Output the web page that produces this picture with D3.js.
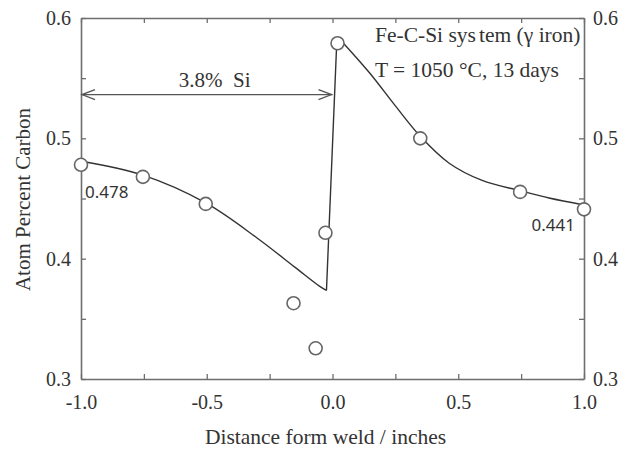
<!DOCTYPE html>
<html>
<head>
<meta charset="utf-8">
<script src="https://cdn.jsdelivr.net/npm/d3@7"></script>
<style>
  html, body { margin: 0; padding: 0; background: #fff; }
  svg { display: block; }
</style>
</head>
<body>
<svg id="chart" width="626" height="454"></svg>
<script>
// ---- data ----
const pointX = [-1.0, -0.754, -0.504, -0.155, -0.067, -0.028, 0.02, 0.349, 0.746, 1.0];
const pointY = [0.478, 0.468, 0.4455, 0.363, 0.3255, 0.4215, 0.579, 0.500, 0.4555, 0.441];

const fitLeftX = [-1.0, -0.754, -0.504, -0.3, -0.15, -0.052, -0.024];
const fitLeftY = [0.481, 0.4694, 0.4463, 0.4172, 0.393, 0.3772, 0.3736];

const jumpX = [-0.024, 0.016, 0.028];
const jumpY = [0.3736, 0.5752, 0.5826];

const fitRightX = [0.028, 0.147, 0.25, 0.349, 0.464, 0.595, 0.746, 0.861, 1.0];
const fitRightY = [0.5826, 0.5545, 0.527, 0.5017, 0.4793, 0.4650, 0.4565, 0.4504, 0.4446];

const xTicks = [-1.0, -0.75, -0.5, -0.25, 0.0, 0.25, 0.5, 0.75, 1.0];
const xTickLabels = ["-1.0", "", "-0.5", "", "0.0", "", "0.5", "", "1.0"];
const yTicks = [0.3, 0.35, 0.4, 0.45, 0.5, 0.55, 0.6];
const yTickLabels = ["0.3", "", "0.4", "", "0.5", "", "0.6"];

const siArrow = { from: -1.0, to: 0.0, y: 0.5364, label: "3.8%\u00a0\u00a0Si" };
const valueLabels = [
  { x: -1.0, y: 0.478, text: "0.478" },
  { x: 1.0, y: 0.441, text: "0.441" }
];
const xTitle = "Distance form weld / inches";
const yTitle = "Atom Percent Carbon";

// ---- layout ----
const svg = d3.select("#chart");
const L = 81, R = 584, T = 18, B = 379;
const x = d3.scaleLinear().domain([-1, 1]).range([L, R]);
const y = d3.scaleLinear().domain([0.3, 0.6]).range([B, T]);

const axisColor = "#6e6e6e";
const serifFam = "Liberation Serif, Times New Roman, DejaVu Serif, serif";
const sansFam = "Noto Sans, Open Sans, sans-serif";

function styleAxis(g) {
  g.attr("font-family", null).attr("font-size", null);
  g.select(".domain").attr("stroke", axisColor).attr("stroke-width", 1.6);
  g.selectAll(".tick line").attr("stroke", axisColor).attr("stroke-width", 1.3);
  g.selectAll(".tick text").attr("fill", "#333").style("font-family", serifFam).style("font-size", "20px");
}

const fmtX = (d) => xTickLabels[xTicks.findIndex(t => Math.abs(t - d) < 1e-9)];
const fmtY = (d) => yTickLabels[yTicks.findIndex(t => Math.abs(t - d) < 1e-9)];

const gB = svg.append("g").attr("transform", `translate(0,${B})`)
  .call(d3.axisBottom(x).tickValues(xTicks).tickSizeInner(-5).tickSizeOuter(0).tickPadding(16).tickFormat(fmtX));
styleAxis(gB);
const gT = svg.append("g").attr("transform", `translate(0,${T})`)
  .call(d3.axisTop(x).tickValues(xTicks).tickSizeInner(-5).tickSizeOuter(0).tickFormat(() => ""));
styleAxis(gT);
const gL = svg.append("g").attr("transform", `translate(${L},0)`)
  .call(d3.axisLeft(y).tickValues(yTicks).tickSizeInner(-5).tickSizeOuter(0).tickPadding(10).tickFormat(fmtY));
styleAxis(gL);
const gR = svg.append("g").attr("transform", `translate(${R},0)`)
  .call(d3.axisRight(y).tickValues(yTicks).tickSizeInner(-5).tickSizeOuter(0).tickPadding(9).tickFormat(fmtY));
styleAxis(gR);

// ---- curve ----
const lineC = d3.line().x(d => x(d[0])).y(d => y(d[1])).curve(d3.curveCatmullRom.alpha(0.5));
const lineL = d3.line().x(d => x(d[0])).y(d => y(d[1]));
const curveStyle = (p) => p.attr("fill", "none").attr("stroke", "#333").attr("stroke-width", 1.4).attr("stroke-linejoin", "round");

svg.append("path").datum(d3.zip(fitLeftX, fitLeftY)).attr("d", lineC).call(curveStyle);
svg.append("path").datum(d3.zip(jumpX, jumpY)).attr("d", lineL).call(curveStyle);
svg.append("path").datum(d3.zip(fitRightX, fitRightY)).attr("d", lineC).call(curveStyle);

// ---- arrow ----
const ay = y(siArrow.y), ax1 = x(siArrow.from), ax2 = x(siArrow.to);
const arrowG = svg.append("g").attr("stroke", "#555").attr("stroke-width", 1.3).attr("fill", "none");
arrowG.append("line").attr("x1", ax1).attr("x2", ax2).attr("y1", ay).attr("y2", ay);
arrowG.append("path").attr("d", `M${ax1 + 14},${ay - 5}L${ax1 + 1},${ay}L${ax1 + 14},${ay + 5}`);
arrowG.append("path").attr("d", `M${ax2 - 14},${ay - 5}L${ax2 - 1},${ay}L${ax2 - 14},${ay + 5}`);
svg.append("text").attr("x", (ax1 + ax2) / 2 + 8).attr("y", ay - 8)
  .attr("text-anchor", "middle").style("font-family", serifFam).style("font-size", "21px").attr("fill", "#333")
  .text(siArrow.label);

// ---- points ----
svg.append("g").selectAll("circle").data(d3.zip(pointX, pointY)).join("circle")
  .attr("cx", d => x(d[0])).attr("cy", d => y(d[1])).attr("r", 6.5)
  .attr("fill", "#fff").attr("stroke", "#666").attr("stroke-width", 1.6);

// ---- value labels ----
svg.append("text").attr("x", x(valueLabels[0].x) + 4).attr("y", y(valueLabels[0].y) + 33)
  .style("font-family", sansFam).style("font-size", "17px").attr("fill", "#333").text(valueLabels[0].text);
svg.append("text").attr("x", x(valueLabels[1].x) - 9).attr("y", y(valueLabels[1].y) + 22)
  .attr("text-anchor", "end").style("font-family", sansFam).style("font-size", "17px").attr("fill", "#333").text(valueLabels[1].text);

// ---- annotation ----
const ann = svg.append("g").style("font-family", serifFam).style("font-size", "21.5px").attr("fill", "#333");
const t1 = ann.append("text").attr("x", 375).attr("y", 42);
t1.append("tspan").text("Fe-C-Si sys");
t1.append("tspan").attr("dx", 3).text("tem (");
t1.append("tspan").text("γ");
t1.append("tspan").text("\u00a0iron)");
ann.append("text").attr("x", 375).attr("y", 77).text("T = 1050 °C, 13 days");

// ---- axis titles ----
svg.append("text").attr("x", (L + R) / 2 - 7).attr("y", 444).attr("text-anchor", "middle")
  .style("font-family", serifFam).style("font-size", "21.5px").attr("fill", "#333").text(xTitle);
svg.append("text").attr("transform", `translate(30,${(T + B) / 2 + 1}) rotate(-90)`)
  .attr("text-anchor", "middle").style("font-family", serifFam).style("font-size", "21px").attr("fill", "#333").text(yTitle);
</script>
</body>
</html>
